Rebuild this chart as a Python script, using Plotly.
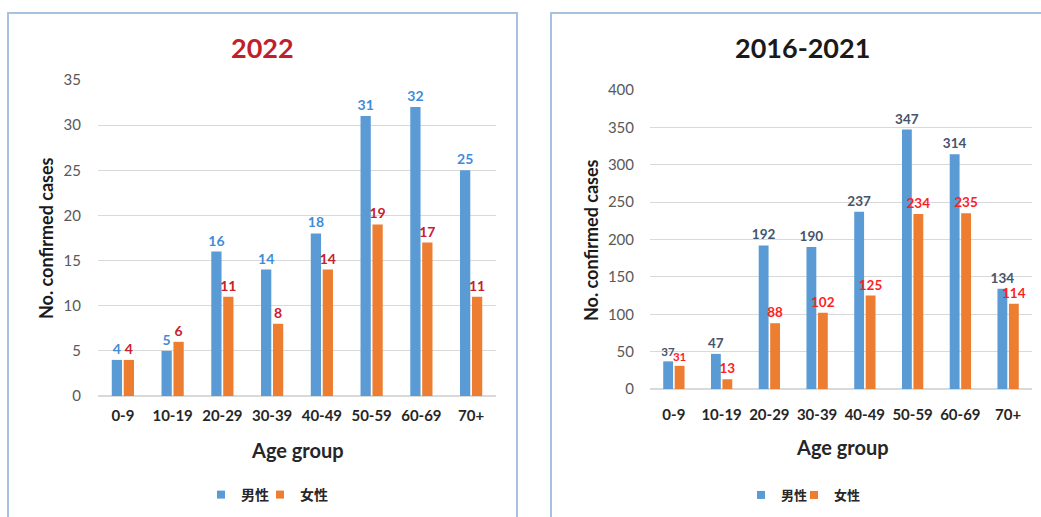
import plotly.graph_objects as go

categories = ["0-9", "10-19", "20-29", "30-39", "40-49", "50-59", "60-69", "70+"]
male_2022 = [4, 5, 16, 14, 18, 31, 32, 25]
female_2022 = [4, 6, 11, 8, 14, 19, 17, 11]
male_1621 = [37, 47, 192, 190, 237, 347, 314, 134]
female_1621 = [31, 13, 88, 102, 125, 234, 235, 114]
series_names = ["男性", "女性"]

W, H = 1041, 517
BLUE = "#5B9BD5"
ORANGE = "#ED7D31"
FONT = "Lato, 'Noto Sans CJK SC', sans-serif"

def px_x(p):
    return p / W

def px_y(p):
    return 1 - p / H

fig = go.Figure()

def bar(x, y, name, color, tcolor, tsize, xa, ya):
    return go.Bar(x=x, y=y, name=name, marker_color=color, marker_line_width=0,
                  text=y, textposition="outside", cliponaxis=False, constraintext="none",
                  textfont=dict(color=tcolor, size=tsize, family=FONT, weight="bold"),
                  xaxis=xa, yaxis=ya, showlegend=False)

# right-panel label sizes: first group's labels are slightly smaller so they don't collide
right_sizes = [11.5] + [13.5] * (len(categories) - 1)

fig.add_trace(bar(categories, male_2022, series_names[0], BLUE, "#3E8CD8", 14, "x", "y"))
fig.add_trace(bar(categories, female_2022, series_names[1], ORANGE, "#C8202C", 14, "x", "y"))
fig.add_trace(bar(categories, male_1621, series_names[0], BLUE, "#44546A", right_sizes, "x2", "y2"))
fig.add_trace(bar(categories, female_1621, series_names[1], ORANGE, "#FF1E1E", right_sizes, "x2", "y2"))

# legend entries (square markers like the reference), one legend box per entry
legend_specs = [
    ("legend", "x", "y", series_names[0], BLUE, 201, 14),
    ("legend2", "x", "y", series_names[1], ORANGE, 260, 14),
    ("legend3", "x2", "y2", series_names[0], BLUE, 741, 13),
    ("legend4", "x2", "y2", series_names[1], ORANGE, 794, 13),
]
legend_layout = {}
for lg, xa, ya, name, color, xpx, fsize in legend_specs:
    fig.add_trace(go.Scatter(x=[None], y=[None], mode="markers", name=name,
                             marker=dict(symbol="square", size=8, color=color),
                             xaxis=xa, yaxis=ya, legend=lg, showlegend=True))
    legend_layout[lg] = dict(orientation="h", x=px_x(xpx), xanchor="left", y=px_y(495),
                             yanchor="middle", itemwidth=30, bgcolor="rgba(0,0,0,0)",
                             font=dict(family="Noto Sans CJK SC", size=fsize,
                                       color="#262626", weight="bold"))

tickfont_y = dict(family=FONT, size=15, color="#595959")
tickfont_x = dict(family=FONT, size=15, color="#262626", weight="bold")

fig.update_layout(
    width=W, height=H,
    margin=dict(l=0, r=0, t=0, b=0, autoexpand=False),
    paper_bgcolor="white", plot_bgcolor="white",
    barmode="group", bargap=0.52, bargroupgap=0.14,
    font=dict(family=FONT),
    xaxis=dict(domain=[px_x(98), px_x(496)], anchor="y", tickfont=tickfont_x,
               showline=False, ticks="outside", ticklen=6, tickcolor="rgba(0,0,0,0)",
               showgrid=False, automargin=False),
    yaxis=dict(domain=[px_y(396), px_y(80)], anchor="x", range=[0, 35], dtick=5,
               tickfont=tickfont_y, gridcolor="#D9D9D9", zeroline=True,
               zerolinecolor="#D9D9D9", showline=False, ticks="outside",
               ticklen=13, tickcolor="rgba(0,0,0,0)", automargin=False),
    xaxis2=dict(domain=[px_x(650), px_x(1032)], anchor="y2", tickfont=tickfont_x,
                showline=False, ticks="outside", ticklen=12, tickcolor="rgba(0,0,0,0)",
                showgrid=False, automargin=False),
    yaxis2=dict(domain=[px_y(389), px_y(90)], anchor="x2", range=[0, 400], dtick=50,
                tickfont=tickfont_y, gridcolor="#D9D9D9", zeroline=True,
                zerolinecolor="#D9D9D9", showline=False, ticks="outside",
                ticklen=12, tickcolor="rgba(0,0,0,0)", automargin=False),
    **legend_layout,
)

annotations = [
    dict(text="<b>2022</b>", x=px_x(262), y=px_y(48), font=dict(size=27, color="#C0202A", family=FONT)),
    dict(text="<b>2016-2021</b>", x=px_x(802), y=px_y(48), font=dict(size=27, color="#1A1A1A", family=FONT)),
    dict(text="<b>No. confirmed cases</b>", x=px_x(46), y=px_y(238), textangle=-90,
         font=dict(size=18, color="#1A1A1A", family=FONT)),
    dict(text="<b>No. confirmed cases</b>", x=px_x(591), y=px_y(240), textangle=-90,
         font=dict(size=18, color="#1A1A1A", family=FONT)),
    dict(text="<b>Age group</b>", x=px_x(297), y=px_y(450), font=dict(size=20, color="#262626", family=FONT)),
    dict(text="<b>Age group</b>", x=px_x(842), y=px_y(447), font=dict(size=20, color="#262626", family=FONT)),
]
for a in annotations:
    a.update(xref="paper", yref="paper", showarrow=False, xanchor="center", yanchor="middle")
fig.update_layout(annotations=annotations)

fig.update_layout(shapes=[
    dict(type="rect", xref="paper", yref="paper", x0=px_x(8), x1=px_x(517), y0=-0.05, y1=px_y(13),
         line=dict(color="#A7C1DE", width=2), fillcolor="rgba(0,0,0,0)", layer="below"),
    dict(type="rect", xref="paper", yref="paper", x0=px_x(551), x1=1.05, y0=-0.05, y1=px_y(13),
         line=dict(color="#A7C1DE", width=2), fillcolor="rgba(0,0,0,0)", layer="below"),
])

fig.write_html("out.html")
